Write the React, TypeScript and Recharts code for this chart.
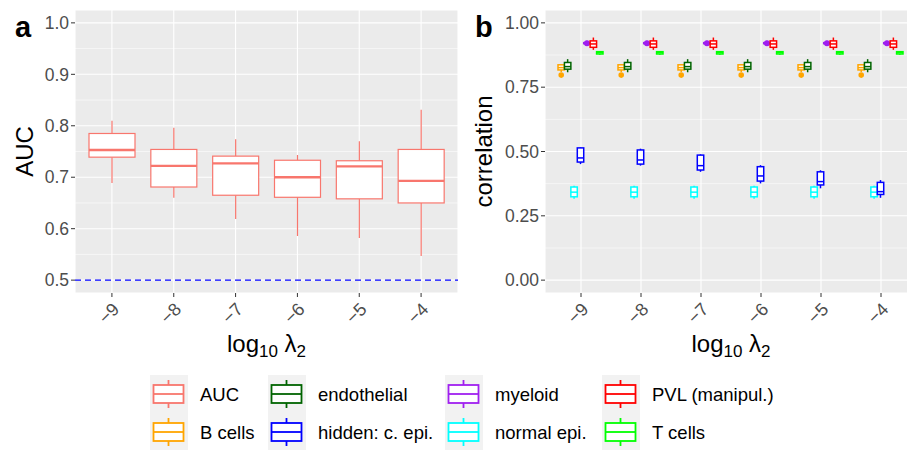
import React from "react";
import { BarChart, Bar, XAxis, YAxis, CartesianGrid, ReferenceLine, Label } from "recharts";

const FONT = '"Liberation Sans", Arial, Helvetica, sans-serif';

// categories
const lambdas = ["-9", "-8", "-7", "-6", "-5", "-4"];

// y ticks
const aucTicks = [0.5, 0.6, 0.7, 0.8, 0.9, 1.0];
const aucMinor = [0.55, 0.65, 0.75, 0.85, 0.95];
const corrTicks = [0, 0.25, 0.5, 0.75, 1.0];
const corrMinor = [0.125, 0.375, 0.625, 0.875];

// box stats per lambda: [min, q1, median, q3, max]
const aucStats = [
  [0.689, 0.739, 0.753, 0.785, 0.81],
  [0.66, 0.681, 0.722, 0.754, 0.796],
  [0.619, 0.665, 0.727, 0.741, 0.774],
  [0.586, 0.661, 0.7, 0.733, 0.743],
  [0.582, 0.658, 0.721, 0.732, 0.77],
  [0.547, 0.65, 0.693, 0.754, 0.831],
];

const bCellsStats = [
  [0.809, 0.817, 0.826, 0.837, 0.84],
  [0.809, 0.817, 0.826, 0.837, 0.84],
  [0.809, 0.817, 0.826, 0.837, 0.84],
  [0.809, 0.817, 0.826, 0.837, 0.84],
  [0.809, 0.817, 0.826, 0.837, 0.84],
  [0.809, 0.817, 0.826, 0.837, 0.84],
];
const bCellsOut = [[0.797], [0.797], [0.797], [0.797], [0.797], [0.797]];

const endothelialStats = [
  [0.808, 0.82, 0.83, 0.846, 0.859],
  [0.808, 0.82, 0.83, 0.846, 0.859],
  [0.808, 0.82, 0.83, 0.846, 0.859],
  [0.808, 0.82, 0.83, 0.846, 0.859],
  [0.808, 0.82, 0.83, 0.846, 0.859],
  [0.808, 0.82, 0.83, 0.846, 0.859],
];

const normalEpiStats = [
  [0.316, 0.324, 0.342, 0.362, 0.367],
  [0.316, 0.324, 0.342, 0.362, 0.367],
  [0.316, 0.324, 0.342, 0.362, 0.367],
  [0.316, 0.324, 0.342, 0.362, 0.367],
  [0.316, 0.324, 0.342, 0.362, 0.367],
  [0.316, 0.324, 0.342, 0.362, 0.367],
];

const hiddenStats = [
  [0.451, 0.459, 0.475, 0.514, 0.516],
  [0.445, 0.451, 0.467, 0.506, 0.511],
  [0.421, 0.428, 0.445, 0.486, 0.489],
  [0.376, 0.385, 0.405, 0.441, 0.447],
  [0.357, 0.37, 0.383, 0.421, 0.427],
  [0.32, 0.333, 0.344, 0.38, 0.389],
];

const myeloidStats = [
  [0.918, 0.919, 0.921, 0.923, 0.924],
  [0.918, 0.919, 0.921, 0.923, 0.924],
  [0.918, 0.919, 0.921, 0.923, 0.924],
  [0.918, 0.919, 0.921, 0.923, 0.924],
  [0.918, 0.919, 0.921, 0.923, 0.924],
  [0.918, 0.919, 0.921, 0.923, 0.924],
];
const myeloidOut = [[0.922, 0.92], [0.922, 0.92], [0.922, 0.92], [0.922, 0.92], [0.922, 0.92], [0.922, 0.92]];

const pvlStats = [
  [0.895, 0.905, 0.918, 0.93, 0.943],
  [0.895, 0.905, 0.918, 0.93, 0.943],
  [0.895, 0.905, 0.918, 0.93, 0.943],
  [0.895, 0.905, 0.918, 0.93, 0.943],
  [0.895, 0.905, 0.918, 0.93, 0.943],
  [0.895, 0.905, 0.918, 0.93, 0.943],
];

const tCellsStats = [
  [0.876, 0.879, 0.884, 0.888, 0.891],
  [0.876, 0.879, 0.884, 0.888, 0.891],
  [0.876, 0.879, 0.884, 0.888, 0.891],
  [0.876, 0.879, 0.884, 0.888, 0.891],
  [0.876, 0.879, 0.884, 0.888, 0.891],
  [0.876, 0.879, 0.884, 0.888, 0.891],
];

// series (dodge order in panel b)
const corrSeries = [
  { key: "bcells", name: "B cells", color: "#FFA500", stats: bCellsStats, out: bCellsOut },
  { key: "endo", name: "endothelial", color: "#006400", stats: endothelialStats, out: null },
  { key: "normal", name: "normal epi.", color: "#00FFFF", stats: normalEpiStats, out: null },
  { key: "hidden", name: "hidden: c. epi.", color: "#0000FF", stats: hiddenStats, out: null },
  { key: "myeloid", name: "myeloid", color: "#A020F0", stats: myeloidStats, out: myeloidOut },
  { key: "pvl", name: "PVL (manipul.)", color: "#FF0000", stats: pvlStats, out: null },
  { key: "tcells", name: "T cells", color: "#00FF00", stats: tCellsStats, out: null },
];

const aucColor = "#F8766D";

// legend layout order (column-major, 2 rows)
const legendItems = [
  { name: "AUC", color: aucColor },
  { name: "B cells", color: "#FFA500" },
  { name: "endothelial", color: "#006400" },
  { name: "hidden: c. epi.", color: "#0000FF" },
  { name: "myeloid", color: "#A020F0" },
  { name: "normal epi.", color: "#00FFFF" },
  { name: "PVL (manipul.)", color: "#FF0000" },
  { name: "T cells", color: "#00FF00" },
];

const aucData = lambdas.map((l, i) => ({ lambda: l, auc: aucStats[i], aucOut: [] as number[] }));

const corrData = lambdas.map((l, i) => {
  const row: any = { lambda: l };
  corrSeries.forEach((s) => {
    row[s.key] = s.stats[i];
    row[s.key + "Out"] = s.out ? s.out[i] : [];
  });
  return row;
});

function makeBoxShape(key: string, color: string, sw: number, medSw: number, r: number) {
  return (props: any) => {
    const { x, y, width, height, payload } = props;
    const st: number[] = payload[key];
    const outs: number[] = payload[key + "Out"] || [];
    const top = height >= 0 ? y : y + height;
    const h = Math.abs(height);
    const span = st[4] - st[0];
    const py = (v: number) => (span === 0 ? top : top + ((st[4] - v) / span) * h);
    const cx = x + width / 2;
    return (
      <g>
        <line x1={cx} x2={cx} y1={py(st[4])} y2={py(st[3])} stroke={color} strokeWidth={sw} />
        <line x1={cx} x2={cx} y1={py(st[1])} y2={py(st[0])} stroke={color} strokeWidth={sw} />
        <rect x={x} y={py(st[3])} width={width} height={py(st[1]) - py(st[3])} fill="#FFFFFF" stroke={color} strokeWidth={sw} />
        <line x1={x} x2={x + width} y1={py(st[2])} y2={py(st[2])} stroke={color} strokeWidth={medSw} />
        {outs.map((o, j) => (
          <circle key={j} cx={cx} cy={py(o)} r={r} fill={color} />
        ))}
      </g>
    );
  };
}

const XTick = (props: any) => {
  const { x, y, payload } = props;
  const label = String(payload.value).replace("-", "\u2212");
  return (
    <g transform={`translate(${x},${y + 3})`}>
      <text x={0} y={0} dy={12} textAnchor="end" transform="rotate(-45)" fill="#4D4D4D" fontSize={18} fontFamily={FONT}>
        {label}
      </text>
    </g>
  );
};

const XTitle = (props: any) => {
  const vb = props.viewBox || {};
  return (
    <text x={vb.x + vb.width / 2} y={vb.y + 59} textAnchor="middle" fontSize={24} fill="#000" fontFamily={FONT}>
      log
      <tspan fontSize={17} dy={5}>10</tspan>
      <tspan dy={-5}> λ</tspan>
      <tspan fontSize={17} dy={5}>2</tspan>
    </text>
  );
};

const makeYTitle = (text: string, bx: number) => (props: any) => {
  const vb = props.viewBox || {};
  const cy = vb.y + vb.height / 2;
  return (
    <text x={bx} y={cy} transform={`rotate(-90 ${bx} ${cy})`} textAnchor="middle" fontSize={24} fill="#000" fontFamily={FONT}>
      {text}
    </text>
  );
};

const tickStyle = { fill: "#4D4D4D", fontSize: 17.5, fontFamily: FONT };

export default function App() {
  return (
    <div style={{ position: "absolute", left: 0, top: 0, width: 907, height: 450, overflow: "hidden", background: "#fff", fontFamily: FONT }}>
      <div style={{ position: "absolute", left: 0, top: 0 }}>
        <BarChart width={460} height={370} data={aucData} margin={{ top: 10, right: 2, left: 0, bottom: 0 }} barSize={46}>
          <CartesianGrid fill="#EBEBEB" fillOpacity={1} stroke="#FFFFFF" strokeWidth={1.1} />
          <CartesianGrid horizontalValues={aucMinor} vertical={false} stroke="#FFFFFF" strokeWidth={0.55} />
          <XAxis dataKey="lambda" type="category" interval={0} padding={{ left: 6, right: 6 }} axisLine={false} tickSize={4} tickLine={{ stroke: "#333333" }} tick={<XTick />} height={77}>
            <Label content={<XTitle />} />
          </XAxis>
          <YAxis type="number" domain={[0.475, 1.025]} ticks={aucTicks} allowDataOverflow width={75} axisLine={false} tickSize={4} tickMargin={2} tickLine={{ stroke: "#333333" }} tick={tickStyle} tickFormatter={(v: number) => v.toFixed(1)}>
            <Label content={makeYTitle("AUC", 33)} />
          </YAxis>
          <Bar dataKey={(d: any) => [d.auc[0], d.auc[4]]} isAnimationActive={false} shape={makeBoxShape("auc", aucColor, 1.2, 2.4, 2.7)} />
          <ReferenceLine y={0.5} stroke="#0000FF" strokeWidth={1.1} strokeDasharray="6 4" />
        </BarChart>
      </div>
      <div style={{ position: "absolute", left: 460, top: 0 }}>
        <BarChart width={457} height={370} data={corrData} margin={{ top: 10, right: 0, left: 0, bottom: 0 }} barSize={6.43} barGap={0}>
          <CartesianGrid fill="#EBEBEB" fillOpacity={1} stroke="#FFFFFF" strokeWidth={1.1} />
          <CartesianGrid horizontalValues={corrMinor} vertical={false} stroke="#FFFFFF" strokeWidth={0.55} />
          <XAxis dataKey="lambda" type="category" interval={0} padding={{ left: 6, right: 6 }} axisLine={false} tickSize={4} tickLine={{ stroke: "#333333" }} tick={<XTick />} height={77}>
            <Label content={<XTitle />} />
          </XAxis>
          <YAxis type="number" domain={[-0.05, 1.05]} ticks={corrTicks} allowDataOverflow width={85} axisLine={false} tickSize={4} tickMargin={2} tickLine={{ stroke: "#333333" }} tick={tickStyle} tickFormatter={(v: number) => v.toFixed(2)}>
            <Label content={makeYTitle("correlation", 32)} />
          </YAxis>
          {corrSeries.map((s) => (
            <Bar key={s.key} dataKey={(d: any) => [d[s.key][0], d[s.key][4]]} isAnimationActive={false} shape={makeBoxShape(s.key, s.color, 1.5, 1.5, 2.8)} />
          ))}
        </BarChart>
      </div>
      <svg width={907} height={450} style={{ position: "absolute", left: 0, top: 0, pointerEvents: "none" }}>
        <text x={15} y={36.5} fontSize={29} fontWeight="bold" fill="#000" fontFamily={FONT}>a</text>
        <text x={475} y={36.5} fontSize={29} fontWeight="bold" fill="#000" fontFamily={FONT}>b</text>
        {legendItems.map((it, i) => {
          const colX = [150, 268, 445, 602][Math.floor(i / 2)];
          const rowY = [375, 413][i % 2];
          const cx = colX + 18.5;
          return (
            <g key={it.name}>
              <rect x={colX} y={rowY} width={38} height={38} fill="#F2F2F2" />
              <line x1={cx} x2={cx} y1={rowY + 5} y2={rowY + 33} stroke={it.color} strokeWidth={1.8} />
              <rect x={cx - 15} y={rowY + 10} width={30} height={18} fill="#FFFFFF" stroke={it.color} strokeWidth={1.8} />
              <line x1={cx - 15} x2={cx + 15} y1={rowY + 19} y2={rowY + 19} stroke={it.color} strokeWidth={1.8} />
              <text x={colX + 50} y={rowY + 26} fontSize={18.5} fill="#000" fontFamily={FONT}>{it.name}</text>
            </g>
          );
        })}
      </svg>
    </div>
  );
}
